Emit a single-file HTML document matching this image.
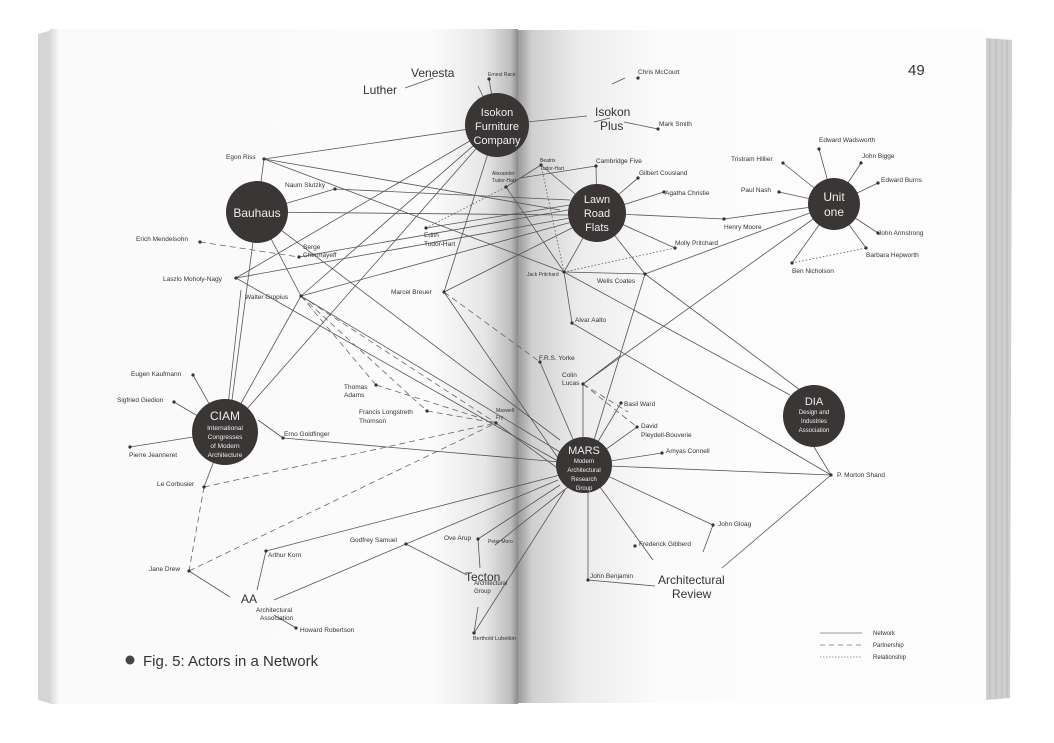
<!DOCTYPE html>
<html><head><meta charset="utf-8"><style>
html,body{margin:0;padding:0;background:#fff;}
svg{display:block;font-family:"Liberation Sans",Arial,sans-serif;}
</style></head><body>
<svg width="1054" height="743" viewBox="0 0 1054 743" xmlns="http://www.w3.org/2000/svg">
<defs>
<linearGradient id="lp" x1="0" x2="1" y1="0" y2="0">
<stop offset="0" stop-color="#d8d8d8"/><stop offset="0.02" stop-color="#fafafa"/>
<stop offset="0.82" stop-color="#fbfbfb"/><stop offset="0.93" stop-color="#e6e6e6"/>
<stop offset="0.985" stop-color="#bdbdbd"/><stop offset="1" stop-color="#8a8a8a"/></linearGradient>
<linearGradient id="rp" x1="0" x2="1" y1="0" y2="0">
<stop offset="0" stop-color="#9a9a9a"/><stop offset="0.03" stop-color="#cfcfcf"/>
<stop offset="0.13" stop-color="#ececec"/><stop offset="0.3" stop-color="#fbfbfb"/>
<stop offset="1" stop-color="#fdfdfd"/></linearGradient>
</defs>
<rect width="1054" height="743" fill="#fff"/>
<!-- page edges stack right -->
<path d="M960 36 L1012 40 L1010 698 L960 702 Z" fill="#e4e4e4"/>
<path d="M985 38 L1012 40 L1010 698 L985 700 Z" fill="#cfcfcf"/>
<g stroke="#aaa" stroke-width="0.6"><line x1="990" y1="39" x2="990" y2="699"/><line x1="996" y1="39" x2="996" y2="699"/><line x1="1002" y1="40" x2="1002" y2="698"/><line x1="1007" y1="40" x2="1007" y2="698"/></g>
<!-- left edge stack -->
<path d="M38 34 L52 30 L52 704 L38 700 Z" fill="#d5d5d5"/>
<rect x="50" y="29" width="468" height="675" fill="url(#lp)"/>
<rect x="518" y="30" width="468" height="673" fill="url(#rp)"/>

<g stroke="#555" stroke-width="0.8" fill="none">
<!-- Isokon -->
<line x1="497" y1="125" x2="264" y2="159"/>
<line x1="497" y1="125" x2="236" y2="278"/>
<line x1="497" y1="125" x2="301" y2="296"/>
<line x1="497" y1="125" x2="444" y2="292"/>
<line x1="497" y1="125" x2="246" y2="410"/>
<line x1="497" y1="125" x2="489" y2="79"/>
<line x1="497" y1="125" x2="478" y2="86"/>
<line x1="497" y1="125" x2="587" y2="116"/>
<line x1="433" y1="78" x2="405" y2="88"/>
<!-- Bauhaus -->
<line x1="257" y1="212" x2="264" y2="159"/>
<line x1="257" y1="212" x2="335" y2="189"/>
<line x1="257" y1="212" x2="301" y2="296"/>
<line x1="257" y1="212" x2="560" y2="440"/>
<line x1="257" y1="212" x2="568" y2="215"/>
<line x1="257" y1="212" x2="232" y2="400"/>
<line x1="264" y1="159" x2="560" y2="210"/>
<line x1="335" y1="189" x2="570" y2="200"/>
<!-- left-to-right bundles -->
<line x1="426" y1="228" x2="570" y2="205"/>
<line x1="236" y1="278" x2="570" y2="218"/>
<line x1="301" y1="296" x2="572" y2="222"/>
<line x1="444" y1="292" x2="572" y2="228"/>
<line x1="299" y1="257" x2="568" y2="210"/>
<line x1="301" y1="296" x2="560" y2="452"/>
<line x1="236" y1="278" x2="556" y2="460"/>
<line x1="444" y1="292" x2="558" y2="458"/>
<line x1="506" y1="187" x2="541" y2="165"/>
<line x1="506" y1="187" x2="564" y2="272"/>
<line x1="264" y1="159" x2="564" y2="272"/>
<!-- Lawn Road -->
<line x1="597" y1="213" x2="596" y2="166"/>
<line x1="597" y1="213" x2="638" y2="178"/>
<line x1="597" y1="213" x2="664" y2="192"/>
<line x1="597" y1="213" x2="724" y2="219"/>
<line x1="597" y1="213" x2="675" y2="248"/>
<line x1="597" y1="213" x2="564" y2="272"/>
<line x1="597" y1="213" x2="645" y2="274"/>
<line x1="596" y1="166" x2="520" y2="178"/>
<line x1="541" y1="165" x2="580" y2="198"/>
<line x1="724" y1="219" x2="834" y2="204"/>
<!-- Unit one -->
<line x1="834" y1="204" x2="819" y2="149"/>
<line x1="834" y1="204" x2="861" y2="163"/>
<line x1="834" y1="204" x2="878" y2="183"/>
<line x1="834" y1="204" x2="783" y2="163"/>
<line x1="834" y1="204" x2="779" y2="192"/>
<line x1="834" y1="204" x2="878" y2="233"/>
<line x1="834" y1="204" x2="866" y2="248"/>
<line x1="834" y1="204" x2="792" y2="263"/>
<line x1="834" y1="204" x2="645" y2="274"/>
<line x1="834" y1="204" x2="583" y2="384"/>
<!-- Jack Pritchard / Wells -->
<line x1="564" y1="272" x2="645" y2="274"/>
<line x1="564" y1="272" x2="572" y2="323"/>
<line x1="564" y1="272" x2="790" y2="395"/>
<line x1="645" y1="274" x2="800" y2="390"/>
<line x1="645" y1="274" x2="594" y2="440"/>
<line x1="572" y1="323" x2="831" y2="475"/>
<line x1="583" y1="384" x2="583" y2="437"/>
<line x1="583" y1="384" x2="621" y2="355"/>
<!-- MARS -->
<line x1="584" y1="465" x2="540" y2="362"/>
<line x1="584" y1="465" x2="621" y2="403"/>
<line x1="584" y1="465" x2="637" y2="427"/>
<line x1="584" y1="465" x2="662" y2="453"/>
<line x1="584" y1="465" x2="831" y2="475"/>
<line x1="584" y1="465" x2="713" y2="525"/>
<line x1="584" y1="465" x2="653" y2="560"/>
<line x1="588" y1="480" x2="588" y2="580"/>
<line x1="588" y1="580" x2="655" y2="586"/>
<line x1="713" y1="525" x2="703" y2="552"/>
<line x1="831" y1="475" x2="722" y2="568"/>
<line x1="831" y1="475" x2="814" y2="447"/>
<line x1="283" y1="438" x2="560" y2="462"/>
<line x1="258" y1="420" x2="283" y2="438"/>
<line x1="496" y1="423" x2="560" y2="470"/>
<line x1="266" y1="551" x2="560" y2="475"/>
<line x1="406" y1="544" x2="558" y2="480"/>
<line x1="478" y1="539" x2="560" y2="485"/>
<line x1="478" y1="539" x2="480" y2="568"/>
<line x1="406" y1="544" x2="467" y2="575"/>
<line x1="274" y1="600" x2="406" y2="544"/>
<line x1="266" y1="551" x2="257" y2="590"/>
<line x1="189" y1="571" x2="230" y2="597"/>
<line x1="274" y1="615" x2="296" y2="628"/>
<line x1="474" y1="633" x2="478" y2="607"/>
<line x1="474" y1="633" x2="565" y2="490"/>
<line x1="495" y1="545" x2="568" y2="487"/>
<!-- CIAM -->
<line x1="225" y1="432" x2="193" y2="375"/>
<line x1="225" y1="432" x2="174" y2="402"/>
<line x1="225" y1="432" x2="130" y2="447"/>
<line x1="225" y1="432" x2="204" y2="487"/>
<line x1="225" y1="432" x2="241" y2="290"/>
<line x1="225" y1="432" x2="301" y2="296"/>
<line x1="612" y1="84" x2="625" y2="78"/>
<line x1="624" y1="122" x2="658" y2="129"/>
<line x1="610" y1="118" x2="594" y2="122"/>
</g>
<!-- partnerships dashed -->
<g stroke="#666" stroke-width="0.8" fill="none" stroke-dasharray="6,4">
<line x1="200" y1="242" x2="299" y2="257"/>
<line x1="301" y1="296" x2="376" y2="385"/>
<line x1="301" y1="296" x2="427" y2="411"/>
<line x1="301" y1="296" x2="496" y2="423"/>
<line x1="376" y1="385" x2="496" y2="423"/>
<line x1="427" y1="411" x2="496" y2="423"/>
<line x1="204" y1="487" x2="496" y2="423"/>
<line x1="189" y1="571" x2="496" y2="423"/>
<line x1="204" y1="487" x2="189" y2="571"/>
<line x1="444" y1="292" x2="540" y2="362"/>
<line x1="583" y1="384" x2="637" y2="427"/>
<line x1="583" y1="384" x2="628" y2="412"/>
</g>
<g stroke="#666" stroke-width="0.9" fill="none" stroke-dasharray="1.5,2">
<line x1="426" y1="228" x2="506" y2="187"/>
<line x1="541" y1="165" x2="564" y2="272"/>
<line x1="564" y1="272" x2="675" y2="248"/>
<line x1="792" y1="263" x2="866" y2="248"/>
</g>
<!-- circles -->
<g fill="#3a3636">
<circle cx="497" cy="125" r="32"/><circle cx="257" cy="212" r="31"/>
<circle cx="597" cy="213" r="29"/><circle cx="834" cy="204" r="26"/>
<circle cx="225" cy="432" r="33"/><circle cx="584" cy="465" r="28"/>
<circle cx="814" cy="416" r="31"/>
</g>
<g fill="#333">
<circle cx="264" cy="159" r="1.6"/><circle cx="335" cy="189" r="1.6"/><circle cx="200" cy="242" r="1.6"/>
<circle cx="299" cy="257" r="1.6"/><circle cx="236" cy="278" r="1.6"/><circle cx="301" cy="296" r="1.6"/>
<circle cx="444" cy="292" r="1.6"/><circle cx="426" cy="228" r="1.6"/><circle cx="506" cy="187" r="1.6"/>
<circle cx="489" cy="79" r="1.6"/><circle cx="541" cy="165" r="1.6"/><circle cx="596" cy="166" r="1.6"/>
<circle cx="638" cy="178" r="1.6"/><circle cx="664" cy="192" r="1.6"/><circle cx="724" cy="219" r="1.6"/>
<circle cx="675" cy="248" r="1.6"/><circle cx="564" cy="272" r="1.6"/><circle cx="645" cy="274" r="1.6"/>
<circle cx="572" cy="323" r="1.6"/><circle cx="540" cy="362" r="1.6"/><circle cx="583" cy="384" r="1.6"/>
<circle cx="621" cy="403" r="1.6"/><circle cx="637" cy="427" r="1.6"/><circle cx="662" cy="453" r="1.6"/>
<circle cx="831" cy="475" r="1.6"/><circle cx="713" cy="525" r="1.6"/><circle cx="635" cy="546" r="1.6"/>
<circle cx="588" cy="580" r="1.6"/><circle cx="376" cy="385" r="1.6"/><circle cx="427" cy="411" r="1.6"/>
<circle cx="496" cy="423" r="1.6"/><circle cx="193" cy="375" r="1.6"/><circle cx="174" cy="402" r="1.6"/>
<circle cx="130" cy="447" r="1.6"/><circle cx="283" cy="438" r="1.6"/><circle cx="204" cy="487" r="1.6"/>
<circle cx="189" cy="571" r="1.6"/><circle cx="266" cy="551" r="1.6"/><circle cx="406" cy="544" r="1.6"/>
<circle cx="296" cy="628" r="1.6"/><circle cx="478" cy="539" r="1.6"/><circle cx="474" cy="633" r="1.6"/>
<circle cx="819" cy="149" r="1.6"/><circle cx="861" cy="163" r="1.6"/><circle cx="878" cy="183" r="1.6"/>
<circle cx="783" cy="163" r="1.6"/><circle cx="779" cy="192" r="1.6"/><circle cx="878" cy="233" r="1.6"/>
<circle cx="866" cy="248" r="1.6"/><circle cx="792" cy="263" r="1.6"/><circle cx="638" cy="78" r="1.6"/>
<circle cx="658" cy="129" r="1.6"/>
</g>
<!-- circle labels -->
<g fill="#eee" text-anchor="middle">
<text x="497" y="116" font-size="11">Isokon</text><text x="497" y="130" font-size="11">Furniture</text><text x="497" y="144" font-size="11">Company</text>
<text x="257" y="217" font-size="12">Bauhaus</text>
<text x="597" y="203" font-size="11">Lawn</text><text x="597" y="217" font-size="11">Road</text><text x="597" y="231" font-size="11">Flats</text>
<text x="834" y="201" font-size="12">Unit</text><text x="834" y="216" font-size="12">one</text>
<text x="225" y="420" font-size="12">CIAM</text>
<text x="225" y="430" font-size="6.5">International</text><text x="225" y="439" font-size="6.5">Congresses</text><text x="225" y="448" font-size="6.5">of Modern</text><text x="225" y="457" font-size="6.5">Architecture</text>
<text x="584" y="454" font-size="11">MARS</text>
<text x="584" y="463" font-size="6">Modern</text><text x="584" y="472" font-size="6">Architectural</text><text x="584" y="481" font-size="6">Research</text><text x="584" y="490" font-size="6">Group</text>
<text x="814" y="405" font-size="11">DIA</text>
<text x="814" y="414" font-size="6">Design and</text><text x="814" y="423" font-size="6">Industries</text><text x="814" y="432" font-size="6">Association</text>
</g>
<g fill="#333" font-size="6.5">
<text x="226" y="159">Egon Riss</text><text x="285" y="187">Naum Slutzky</text>
<text x="136" y="241">Erich Mendelsohn</text><text x="303" y="249">Serge</text><text x="303" y="257">Chermayeff</text>
<text x="163" y="281">Laszlo Moholy-Nagy</text><text x="245" y="299">Walter Gropius</text>
<text x="391" y="294">Marcel Breuer</text><text x="424" y="237">Edith</text><text x="424" y="246">Tudor-Hart</text>
<text x="492" y="175" font-size="5">Alexander</text><text x="492" y="182" font-size="5">Tudor-Hart</text>
<text x="488" y="76" font-size="5">Ernest Race</text>
<text x="540" y="162" font-size="5">Beatrix</text><text x="540" y="170" font-size="5">Tudor-Hart</text>
<text x="596" y="163">Cambridge Five</text><text x="639" y="175">Gilbert Cousland</text>
<text x="665" y="195">Agatha Christie</text><text x="724" y="229">Henry Moore</text>
<text x="675" y="245">Molly Pritchard</text><text x="527" y="276" font-size="5">Jack Pritchard</text>
<text x="597" y="283">Wells Coates</text><text x="575" y="322">Alvar Aalto</text>
<text x="539" y="360">F.R.S. Yorke</text><text x="562" y="377">Colin</text><text x="562" y="385">Lucas</text>
<text x="624" y="406">Basil Ward</text><text x="641" y="428">David</text><text x="641" y="437">Pleydell-Bouverie</text>
<text x="666" y="453">Amyas Connell</text><text x="837" y="477">P. Morton Shand</text>
<text x="718" y="526">John Gloag</text><text x="639" y="546">Frederick Gibberd</text>
<text x="590" y="578">John Benjamin</text>
<text x="344" y="389">Thomas</text><text x="344" y="397">Adams</text>
<text x="359" y="414">Francis Longstreth</text><text x="359" y="423">Thomson</text>
<text x="496" y="412" font-size="5">Maxwell</text><text x="496" y="419" font-size="5">Fry</text>
<text x="131" y="376">Eugen Kaufmann</text><text x="117" y="402">Sigfried Giedion</text>
<text x="129" y="457">Pierre Jeanneret</text><text x="284" y="436">Erno Goldfinger</text>
<text x="157" y="486">Le Corbusier</text><text x="149" y="571">Jane Drew</text>
<text x="268" y="557">Arthur Korn</text><text x="350" y="542">Godfrey Samuel</text>
<text x="300" y="632">Howard Robertson</text><text x="444" y="540">Ove Arup</text>
<text x="488" y="543" font-size="5">Peter Moro</text><text x="473" y="640" font-size="5.5">Berthold Lubetkin</text>
<text x="819" y="142">Edward Wadsworth</text><text x="862" y="158">John Bigge</text>
<text x="881" y="182">Edward Burns</text><text x="731" y="161">Tristram Hillier</text>
<text x="741" y="192">Paul Nash</text><text x="878" y="235">John Armstrong</text>
<text x="866" y="257">Barbara Hepworth</text><text x="792" y="273">Ben Nicholson</text>
<text x="638" y="74">Chris McCourt</text><text x="659" y="126">Mark Smith</text>
<text x="256" y="612">Architectural</text><text x="260" y="620">Association</text>
<text x="474" y="585" font-size="6">Architectural</text><text x="474" y="593" font-size="6">Group</text>
<text x="873" y="635" font-size="6">Network</text><text x="873" y="647" font-size="6">Partnership</text><text x="873" y="659" font-size="6">Relationship</text>
</g>
<g stroke="#777" stroke-width="0.7"><line x1="820" y1="633" x2="862" y2="633"/><line x1="820" y1="645" x2="862" y2="645" stroke-dasharray="5,4"/><line x1="820" y1="657" x2="862" y2="657" stroke-dasharray="1.5,1.5"/></g>
<g fill="#333" font-size="12">
<text x="363" y="94">Luther</text><text x="411" y="77">Venesta</text>
<text x="595" y="116">Isokon</text><text x="600" y="130">Plus</text>
<text x="465" y="581">Tecton</text><text x="241" y="603">AA</text>
<text x="658" y="584">Architectural</text><text x="672" y="598">Review</text>
</g>
<text x="908" y="75" font-size="15" fill="#333">49</text>
<circle cx="130" cy="660" r="4.5" fill="#444"/>
<text x="143" y="666" font-size="15" fill="#333">Fig. 5: Actors in a Network</text>
</svg>
</body></html>
